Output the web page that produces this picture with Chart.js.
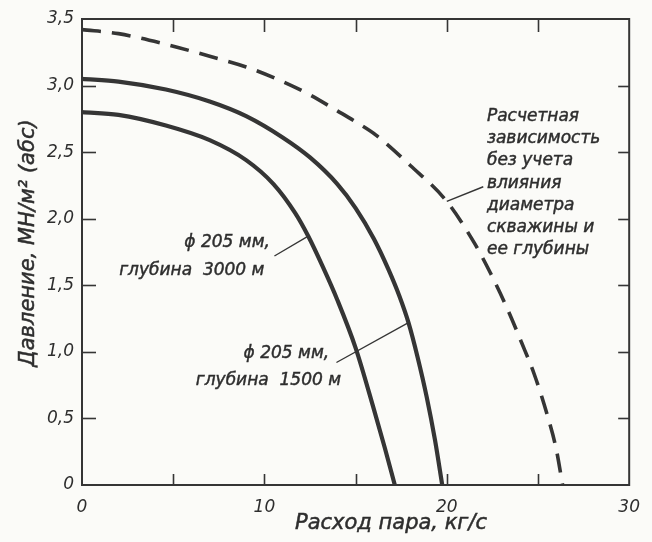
<!DOCTYPE html>
<html>
<head>
<meta charset="utf-8">
<script src="https://cdn.jsdelivr.net/npm/chart.js@4.4.1/dist/chart.umd.min.js"></script>
<style>
  html, body { margin: 0; padding: 0; background: #fbfbf8; }
  #wrap { width: 652px; height: 542px; }
</style>
</head>
<body>
<div id="wrap"><canvas id="c" width="652" height="542"></canvas></div>
<script>
// Steam flow (kg/s) vs. wellhead pressure (MN/m², abs)
const flow3000 = [0, 2, 4.6, 7, 9, 10.5, 11.7, 12.4, 13.2, 14, 15, 16, 16.6, 17.15];
const press3000 = [2.80, 2.78, 2.70, 2.59, 2.44, 2.26, 2.04, 1.87, 1.64, 1.39, 1.03, 0.57, 0.28, 0];

const flow1500 = [0, 2, 4.6, 7, 9, 11, 12.5, 14, 15, 16, 16.8, 17.4, 17.9, 18.4, 18.9, 19.35, 19.75];
const press1500 = [3.05, 3.03, 2.97, 2.88, 2.77, 2.61, 2.46, 2.26, 2.08, 1.85, 1.62, 1.42, 1.22, 0.96, 0.66, 0.34, 0];

const flowCalc = [0, 2, 4.6, 7, 9, 11, 12.5, 14, 15.1, 16.1, 18, 20, 21.5, 22.4, 23.3, 24.1, 24.8, 25.5, 26.0, 26.35];
const pressCalc = [3.42, 3.39, 3.31, 3.22, 3.14, 3.03, 2.93, 2.81, 2.72, 2.63, 2.40, 2.13, 1.82, 1.59, 1.33, 1.07, 0.83, 0.53, 0.27, 0];

const xTicks = [0, 5, 10, 15, 20, 25, 30];
const yTicks = [0, 0.5, 1.0, 1.5, 2.0, 2.5, 3.0, 3.5];

const xTitle = 'Расход пара, кг/с';
const yTitle = 'Давление, МН/м² (абс)';

const noteCalc = ['Расчетная', 'зависимость', 'без учета', 'влияния', 'диаметра', 'скважины и', 'ее глубины'];
const note3000 = ['ϕ 205 мм,', 'глубина  3000 м'];
const note1500 = ['ϕ 205 мм,', 'глубина  1500 м'];

const INK = '#353535';
const TEXT = '#2e2e2e';
const FONT = '"DejaVu Sans", sans-serif';

const toPts = (xs, ys) => xs.map((x, i) => ({ x, y: ys[i] }));

// frame, inward tick marks, axis titles and callout labels
const decor = {
  id: 'decor',
  afterDraw(chart) {
    const { ctx, chartArea: a, scales: { x, y } } = chart;
    ctx.save();
    ctx.strokeStyle = INK;
    ctx.lineCap = 'butt';

    ctx.lineWidth = 2;
    ctx.strokeRect(a.left, a.top, a.right - a.left, a.bottom - a.top);

    ctx.lineWidth = 1.6;
    yTicks.forEach(v => {
      if (v === 0 || v === 3.5) return;
      const py = Math.round(y.getPixelForValue(v)) + 0.5;
      ctx.beginPath(); ctx.moveTo(a.left, py); ctx.lineTo(a.left + 14, py); ctx.stroke();
      ctx.beginPath(); ctx.moveTo(a.right - 11, py); ctx.lineTo(a.right, py); ctx.stroke();
    });
    xTicks.forEach(v => {
      if (v === 0 || v === 30) return;
      const px = Math.round(x.getPixelForValue(v)) + 0.5;
      ctx.beginPath(); ctx.moveTo(px, a.top); ctx.lineTo(px, a.top + 13); ctx.stroke();
      ctx.beginPath(); ctx.moveTo(px, a.bottom); ctx.lineTo(px, a.bottom - 11); ctx.stroke();
    });

    const text = (s, px, py) => {
      ctx.fillText(s, px, py);
      ctx.strokeText(s, px, py);
    };

    // axis titles
    ctx.fillStyle = TEXT;
    ctx.strokeStyle = TEXT;
    ctx.lineWidth = 0.5;
    ctx.font = 'italic 21px ' + FONT;
    ctx.textAlign = 'center';
    ctx.textBaseline = 'middle';
    text(xTitle, 391, 524);
    ctx.save();
    ctx.translate(29, 243);
    ctx.rotate(-Math.PI / 2);
    text(yTitle, 0, 0);
    ctx.restore();

    // callout leaders
    ctx.strokeStyle = INK;
    const seg = (x1, y1, x2, y2) => {
      ctx.beginPath();
      ctx.moveTo(x.getPixelForValue(x1), y.getPixelForValue(y1));
      ctx.lineTo(x.getPixelForValue(x2), y.getPixelForValue(y2));
      ctx.stroke();
    };
    ctx.lineWidth = 1.4;
    seg(20.0, 2.13, 22.0, 2.24);
    seg(10.55, 1.72, 12.4, 1.87);
    seg(13.95, 0.92, 17.9, 1.22);

    // callout text
    ctx.strokeStyle = TEXT;
    ctx.lineWidth = 0.45;
    ctx.font = 'italic 17px ' + FONT;
    ctx.textBaseline = 'middle';
    ctx.textAlign = 'left';
    const bx = x.getPixelForValue(22.2), by = y.getPixelForValue(2.77);
    noteCalc.forEach((s, i) => text(s, bx, by + i * 22.3));

    ctx.textAlign = 'right';
    text(note3000[0], x.getPixelForValue(10.3), y.getPixelForValue(1.82));
    text(note3000[1], x.getPixelForValue(10.0), y.getPixelForValue(1.61));
    text(note1500[0], x.getPixelForValue(13.55), y.getPixelForValue(0.985));
    text(note1500[1], x.getPixelForValue(14.2), y.getPixelForValue(0.785));
    ctx.restore();
  }
};

const bg = {
  id: 'bg',
  beforeDraw(chart) {
    const { ctx, width, height } = chart;
    ctx.save();
    ctx.fillStyle = '#fbfbf8';
    ctx.fillRect(0, 0, width, height);
    ctx.restore();
  }
};

const curve = { pointRadius: 0, cubicInterpolationMode: 'monotone', fill: false, borderColor: INK, borderCapStyle: 'butt' };

new Chart(document.getElementById('c'), {
  type: 'line',
  data: {
    datasets: [
      Object.assign({ label: 'глубина 3000 м', data: toPts(flow3000, press3000), borderWidth: 4.2 }, curve),
      Object.assign({ label: 'глубина 1500 м', data: toPts(flow1500, press1500), borderWidth: 4.2 }, curve),
      Object.assign({ label: 'Расчетная зависимость', data: toPts(flowCalc, pressCalc), borderWidth: 3.6,
        borderDash: [19, 11] }, curve)
    ]
  },
  options: {
    responsive: false,
    animation: false,
    layout: { padding: { left: 0, right: 7, top: 19, bottom: 0 } },
    plugins: { legend: { display: false }, tooltip: { enabled: false } },
    scales: {
      x: {
        type: 'linear', min: 0, max: 30,
        afterFit(s) { s.height = 57; },
        afterBuildTicks(s) { s.ticks = xTicks.map(v => ({ value: v })); },
        grid: { display: false, drawTicks: false },
        border: { display: false },
        ticks: {
          padding: 12,
          color: TEXT,
          font: { family: FONT, size: 17, style: 'italic' },
          callback: v => (v % 10 === 0 ? String(v) : '')
        }
      },
      y: {
        type: 'linear', min: 0, max: 3.5,
        afterFit(s) { s.width = 82; },
        afterBuildTicks(s) { s.ticks = yTicks.map(v => ({ value: v })); },
        grid: { display: false, drawTicks: false },
        border: { display: false },
        ticks: {
          padding: 8,
          color: TEXT,
          font: { family: FONT, size: 17, style: 'italic' },
          callback: v => (v === 0 ? '0' : v.toFixed(1).replace('.', ','))
        }
      }
    }
  },
  plugins: [bg, decor]
});
</script>
</body>
</html>
